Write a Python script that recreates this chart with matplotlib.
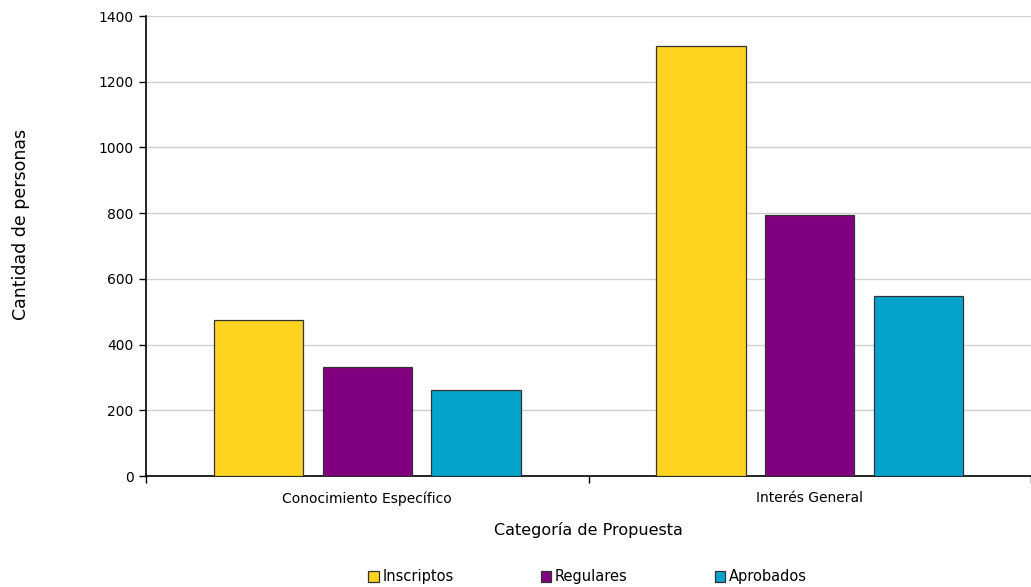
import matplotlib.pyplot as plt
import numpy as np

categorias = ['Conocimiento Específico', 'Interés General']
series = ['Inscriptos', 'Regulares', 'Aprobados']
inscriptos = [475, 1309]
regulares = [332, 794]
aprobados = [262, 548]
colores = ['#FFD320', '#800080', '#04A3CC']

plt.rcParams['font.family'] = ['DejaVu Sans']

fig = plt.figure(figsize=(10.31, 5.87), dpi=100)
ax = fig.add_axes([146 / 1031, 1 - 476 / 587, 1 - 146 / 1031, 460 / 587])

x = np.arange(len(categorias))
ancho = 0.202
paso = 0.246
for i, (nombre, valores) in enumerate(zip(series, [inscriptos, regulares, aprobados])):
    ax.bar(x + (i - 1) * paso, valores, ancho, color=colores[i],
           edgecolor='#333333', linewidth=0.9, label=nombre, zorder=3)

ax.set_xlim(-0.498, 1.486)
ax.set_ylim(0, 1400)
ax.set_yticks(range(0, 1401, 200))
ax.yaxis.grid(True, color='#D0D0D0', linewidth=1, zorder=0)

ax.set_xticks(x)
ax.set_xticklabels(categorias, fontsize=10)
ax.tick_params(axis='x', length=0, pad=11)
ax.set_xticks([-0.5, 0.5, 1.5], minor=True)
ax.tick_params(axis='x', which='minor', length=5, width=1, color='black')
ax.tick_params(axis='y', length=5, width=1, labelsize=10, pad=4)

for s in ['top', 'right']:
    ax.spines[s].set_visible(False)
ax.spines['left'].set_linewidth(1.2)
ax.spines['bottom'].set_linewidth(1.2)

ax.set_xlabel('Categoría de Propuesta', fontsize=11.5, labelpad=12)
ax.set_ylabel('Cantidad de personas', fontsize=12.5)
ax.yaxis.set_label_coords(-0.131, (476 - 224) / 460)

fig.legend(loc='center', bbox_to_anchor=(0.570, 1 - 577 / 587),
           ncol=3, frameon=False, fontsize=10.5, handlelength=0.7,
           handleheight=0.7, handletextpad=0.25, columnspacing=6.0)

fig.savefig('out.png', dpi=100)
